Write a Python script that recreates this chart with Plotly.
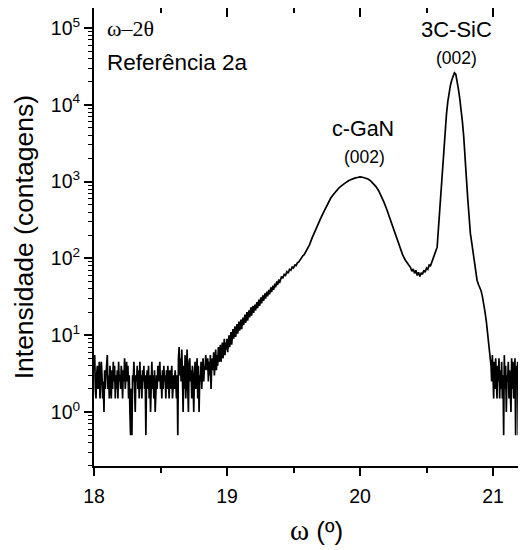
import plotly.graph_objects as go

# ---- data ----
omega_noise_left = [
    18.000, 18.005, 18.010, 18.015, 18.020, 18.025, 18.030, 18.035, 18.040, 18.045,
    18.050, 18.055, 18.060, 18.065, 18.070, 18.075, 18.080, 18.085, 18.090, 18.095,
    18.100, 18.105, 18.110, 18.115, 18.120, 18.125, 18.130, 18.135, 18.140, 18.145,
    18.150, 18.155, 18.160, 18.165, 18.170, 18.175, 18.180, 18.185, 18.190, 18.195,
    18.200, 18.205, 18.210, 18.215, 18.220, 18.225, 18.230, 18.235, 18.240, 18.245,
    18.250, 18.255, 18.260, 18.265, 18.270, 18.275, 18.280, 18.285, 18.290, 18.295,
    18.300, 18.305, 18.310, 18.315, 18.320, 18.325, 18.330, 18.335, 18.340, 18.345,
    18.350, 18.355, 18.360, 18.365, 18.370, 18.375, 18.380, 18.385, 18.390, 18.395,
    18.400, 18.405, 18.410, 18.415, 18.420, 18.425, 18.430, 18.435, 18.440, 18.445,
    18.450, 18.455, 18.460, 18.465, 18.470, 18.475, 18.480, 18.485, 18.490, 18.495,
    18.500, 18.505, 18.510, 18.515, 18.520, 18.525, 18.530, 18.535, 18.540, 18.545,
    18.550, 18.555, 18.560, 18.565, 18.570, 18.575, 18.580, 18.585, 18.590, 18.595,
    18.600, 18.605, 18.610, 18.615, 18.620, 18.625, 18.630, 18.635, 18.640, 18.645,
    18.650, 18.655, 18.660, 18.665, 18.670, 18.675, 18.680, 18.685, 18.690, 18.695,
    18.700, 18.705, 18.710, 18.715, 18.720, 18.725, 18.730, 18.735, 18.740, 18.745,
    18.750, 18.755, 18.760, 18.765, 18.770, 18.775, 18.780, 18.785, 18.790, 18.795,
    18.800, 18.805, 18.810, 18.815, 18.820, 18.825, 18.830, 18.835, 18.840, 18.845]
counts_noise_left = [
    3.5, 5.5, 2, 1.5, 3, 4, 2, 3.5, 4.5, 1.5,
    2.5, 4.5, 3, 1.5, 2.5, 1, 3.5, 2, 3, 4,
    5.5, 2, 3, 1.5, 4, 2.5, 1.5, 3.5, 2, 4.5,
    2.5, 4, 1.5, 3, 2, 3.5, 1.5, 4.5, 2.5, 3,
    2, 4, 3, 1.5, 3.5, 2.5, 5, 2, 3, 4.5,
    2.5, 4, 1.5, 3, 1, 0.5, 2, 0.5, 3, 2.5,
    4.5, 1.5, 1, 3, 2.5, 4, 2, 3.5, 1.5, 4.5,
    2, 3, 1.5, 3.5, 2.5, 4, 2, 3, 0.5, 2.5,
    3.5, 2, 4, 1.5, 3, 1, 2.5, 4.5, 2, 3,
    1.5, 3.5, 1, 2.5, 3, 2, 4, 2.5, 3.5, 4.5,
    2, 3, 1.5, 3.5, 2, 4, 2.5, 3, 1.5, 3.5,
    2, 4, 2.5, 1.5, 3.5, 2, 3, 4, 1.5, 2.5,
    3, 2, 3.5, 2.5, 1.5, 3, 0.5, 5, 7, 3,
    5, 2.5, 6.5, 3, 1, 4, 2, 5.5, 1.5, 3,
    6.5, 2, 1, 4.5, 5, 2.5, 3.5, 1.5, 4, 2.5,
    1, 3, 4.5, 2, 3.5, 5, 1.5, 4, 1, 3,
    2.5, 4.5, 2, 3, 5, 2.5, 4, 3.5, 5.5, 4]

omega_rise = [
    18.850, 18.855, 18.860, 18.865, 18.870, 18.875, 18.880, 18.885, 18.890, 18.895,
    18.900, 18.905, 18.910, 18.915, 18.920, 18.925, 18.930, 18.935, 18.940, 18.945,
    18.950, 18.955, 18.960, 18.965, 18.970, 18.975, 18.980, 18.985, 18.990, 18.995,
    19.000, 19.005, 19.010, 19.015, 19.020, 19.025, 19.030, 19.035, 19.040, 19.045,
    19.050, 19.055, 19.060, 19.065, 19.070, 19.075, 19.080, 19.085, 19.090, 19.095,
    19.100, 19.105, 19.110, 19.115, 19.120, 19.125, 19.130, 19.135, 19.140, 19.145,
    19.150, 19.155, 19.160, 19.165, 19.170, 19.175, 19.180, 19.185, 19.190, 19.195,
    19.200, 19.205, 19.210, 19.215, 19.220, 19.225, 19.230, 19.235, 19.240, 19.245,
    19.250, 19.255, 19.260, 19.265, 19.270, 19.275, 19.280, 19.285, 19.290, 19.295,
    19.300, 19.305, 19.310, 19.315, 19.320, 19.325, 19.330, 19.335, 19.340, 19.345,
    19.350, 19.355, 19.360, 19.365, 19.370, 19.375, 19.380, 19.385, 19.390, 19.395,
    19.40, 19.41, 19.42, 19.43, 19.44,
    19.45, 19.46, 19.47, 19.48, 19.49, 19.50, 19.51, 19.52, 19.53, 19.54,
    19.55, 19.56, 19.57, 19.58, 19.59, 19.60, 19.61]
counts_rise = [
    3.5, 5, 2.5, 4.5, 3, 5.5, 2, 4, 5, 3.5,
    6, 3, 5, 6.5, 3.5, 5.5, 4, 7, 4.5, 6,
    7.5, 4.5, 6, 8, 5, 7, 9, 5.5, 8, 6.5,
    9, 6, 8.5, 10, 7, 9.5, 11, 7.5, 10, 12,
    9, 11.5, 13, 9.5, 12, 14, 10.5, 13, 15, 11.5,
    14, 16, 12, 15, 17, 13.5, 16, 18.5, 14.5, 17,
    20, 15.5, 18, 21, 17, 20, 23, 18, 21.5, 24,
    19.5, 22, 25, 21, 24, 27, 22.5, 25.5, 29, 24,
    27, 31, 26, 29.5, 33, 28, 31.5, 35, 30, 34,
    37, 32, 35.5, 39, 34, 38, 42, 36.5, 40.5, 44,
    39, 43, 47, 42, 46, 50, 45, 49, 53, 48,
    52, 58, 55, 62, 60,
    67, 64, 72, 70, 77, 75, 82, 81, 88, 90,
    97, 101, 108, 112, 121, 127, 138]

omega_gan = [19.62, 19.64, 19.66, 19.68, 19.70, 19.72, 19.74, 19.76, 19.78, 19.80,
             19.82, 19.84, 19.86, 19.88, 19.90, 19.92, 19.94, 19.96, 19.98, 20.00,
             20.02, 20.04, 20.06, 20.08, 20.10, 20.12, 20.14, 20.16, 20.18, 20.20,
             20.22, 20.24, 20.26, 20.28, 20.30, 20.32, 20.34, 20.36, 20.38, 20.39,
             20.40, 20.41, 20.42, 20.43, 20.44, 20.45, 20.46, 20.47, 20.48, 20.49,
             20.50, 20.51, 20.52, 20.53, 20.54, 20.55, 20.56, 20.57]
counts_gan = [150, 185, 225, 270, 320, 380, 450, 530, 610, 680,
              750, 820, 880, 940, 990, 1040, 1080, 1110, 1130, 1150,
              1140, 1120, 1080, 1020, 950, 860, 760, 650, 540, 440,
              350, 280, 220, 175, 140, 112, 95, 84, 76, 68,
              73, 64, 70, 60, 66, 58, 65, 62, 70, 66,
              75, 72, 82, 80, 92, 100, 112, 125]

omega_sic = [20.58, 20.59, 20.60, 20.61, 20.62, 20.63, 20.64, 20.65, 20.66, 20.67,
             20.68, 20.69, 20.70, 20.71, 20.72, 20.73, 20.74, 20.75, 20.76, 20.77,
             20.78, 20.79, 20.80, 20.81, 20.82, 20.83, 20.84, 20.85, 20.86, 20.87,
             20.88, 20.89, 20.90, 20.91, 20.92, 20.93, 20.94, 20.95, 20.96, 20.97,
             20.98]
counts_sic = [140, 250, 450, 850, 1500, 2500, 4200, 7500, 11000, 14500,
              18000, 21000, 24000, 26000, 25000, 21000, 16000, 12000, 9000, 6000,
              3800, 2300, 1100, 600, 320, 210, 160, 120, 90, 65,
              52, 46, 42, 38, 32, 26, 20, 15, 10, 7,
              5]

omega_noise_right = [
    20.985, 20.990, 20.995, 21.000, 21.005, 21.010, 21.015, 21.020, 21.025, 21.030,
    21.035, 21.040, 21.045, 21.050, 21.055, 21.060, 21.065, 21.070, 21.075, 21.080,
    21.085, 21.090, 21.095, 21.100, 21.105, 21.110, 21.115, 21.120, 21.125, 21.130,
    21.135, 21.140, 21.145, 21.150, 21.155, 21.160, 21.165, 21.170, 21.175, 21.180,
    21.185, 21.190, 21.195, 21.200, 21.205, 21.210, 21.215, 21.220, 21.225, 21.230,
    21.235, 21.240, 21.245, 21.250]
counts_noise_right = [
    4, 2.5, 5.5, 3, 1.5, 4.5, 2, 5, 3, 1.5,
    4, 2.5, 5, 1.5, 3.5, 2, 4.5, 1.5, 3, 0.5,
    5.5, 2, 4, 1, 3, 2.5, 4.5, 1.5, 3.5, 2,
    1, 5, 2, 4.5, 1.5, 3, 5, 0.5, 4, 2.5,
    4.5, 0.5, 3, 1.5, 4, 0.5, 3.5, 1, 4.5, 0.5,
    3, 1.5, 4, 0.5]

decade_vals = [1, 10, 100, 1000, 10000, 100000]
decade_text = ["10<sup>0</sup>", "10<sup>1</sup>", "10<sup>2</sup>",
               "10<sup>3</sup>", "10<sup>4</sup>", "10<sup>5</sup>"]
x_tick_vals = [18, 19, 20, 21]

omega = omega_noise_left + omega_rise + omega_gan + omega_sic + omega_noise_right
counts = counts_noise_left + counts_rise + counts_gan + counts_sic + counts_noise_right

# page has an 8px body margin: figure is sized/offset to compensate
X_RANGE = [18.0, 21.248]
Y_RANGE = [-0.703, 5.26]
FONT = "Liberation Sans, Arial, sans-serif"
SERIF = "Liberation Serif, Times New Roman, serif"

fig = go.Figure()
fig.add_trace(go.Scatter(x=omega, y=counts, mode="lines",
                         line=dict(color="black", width=1.7),
                         showlegend=False, hoverinfo="skip"))
# helper trace so the mirrored top axis gets drawn
fig.add_trace(go.Scatter(x=[omega[0]], y=[counts[0]], xaxis="x2", yaxis="y",
                         mode="markers", marker=dict(opacity=0), showlegend=False,
                         hoverinfo="skip"))

fig.update_layout(
    width=518, height=542,
    margin=dict(l=86, r=0, t=0, b=84, autoexpand=False),
    paper_bgcolor="white", plot_bgcolor="white",
    font=dict(family=FONT, color="black"),
    xaxis=dict(range=X_RANGE, showline=True, linewidth=2, linecolor="black",
               ticks="outside", ticklen=8, tickwidth=1.5, tickcolor="black",
               tickvals=x_tick_vals, showgrid=False, zeroline=False, automargin=False,
               tickfont=dict(size=19.5, family=FONT), ticklabelstandoff=4,
               minor=dict(dtick=0.5, ticks="outside", ticklen=5, tickwidth=1.5,
                          tickcolor="black", showgrid=False)),
    xaxis2=dict(range=X_RANGE, overlaying="x", side="top", showline=True,
                linewidth=2, linecolor="black", ticks="inside", ticklen=9,
                tickwidth=1.5, tickcolor="black", tickvals=x_tick_vals,
                showticklabels=False, showgrid=False, zeroline=False, automargin=False,
                minor=dict(dtick=0.5, ticks="inside", ticklen=5, tickwidth=1.5,
                           tickcolor="black", showgrid=False)),
    yaxis=dict(type="log", range=Y_RANGE, showline=True, linewidth=2,
               linecolor="black", ticks="outside", ticklen=8, tickwidth=1.5,
               tickcolor="black", tickvals=decade_vals, ticktext=decade_text,
               showgrid=False, zeroline=False, automargin=False,
               tickfont=dict(size=19.5, family=FONT),
               minor=dict(dtick="D1", ticks="outside", ticklen=4, tickwidth=1.2,
                          tickcolor="black", showgrid=False)),
)

# inward ticks of the (off-picture) right axis at each decade
for v in decade_vals:
    fig.add_shape(type="line", xref="paper", yref="y", x0=1 - 8 / 432, x1=1.0,
                  y0=v, y1=v, line=dict(color="black", width=1.5))

annots = [
    dict(text="ω–2θ", x=0.025, y=0.956, xanchor="left", font=dict(size=22, family=SERIF)),
    dict(text="Referência 2a", x=0.025, y=0.880, xanchor="left", font=dict(size=22.5, family=FONT)),
    dict(text="c-GaN", x=0.623, y=0.736, xanchor="center", font=dict(size=21.5, family=FONT)),
    dict(text="(002)", x=0.625, y=0.675, xanchor="center", font=dict(size=17.5, family=FONT)),
    dict(text="3C-SiC", x=0.838, y=0.954, xanchor="center", font=dict(size=22, family=FONT)),
    dict(text="(002)", x=0.838, y=0.891, xanchor="center", font=dict(size=17.5, family=FONT)),
    # axis titles
    dict(text="<span style=\"font-family:'Liberation Serif';font-size:29px\">ω</span> (º)",
         x=0.514, y=-0.140, xanchor="center", font=dict(size=26, family=FONT)),
    dict(text="Intensidade (contagens)", x=-0.160, y=0.499, xanchor="center",
         textangle=-90, font=dict(size=26.5, family=FONT)),
]
for a in annots:
    fig.add_annotation(xref="paper", yref="paper", yanchor="middle",
                       showarrow=False, **a)

fig.write_html("out.html")
